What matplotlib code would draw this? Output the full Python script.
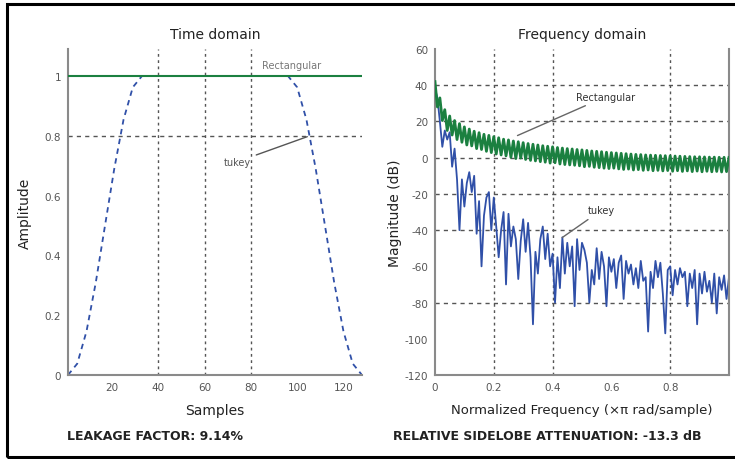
import numpy as np
import matplotlib
matplotlib.use("Agg")
import matplotlib.pyplot as plt
from matplotlib.patches import Rectangle

plt.rcParams["axes.unicode_minus"] = False

# time domain data (samples 1..128)
samples = [1, 5, 9, 13, 17, 21, 25, 29, 33, 40, 50, 60, 70, 80, 90, 96,
           100, 104, 108, 112, 116, 120, 124, 128]
tukey_amp = [0.0, 0.038, 0.146, 0.309, 0.5, 0.69, 0.854, 0.962, 1.0, 1.0, 1.0, 1.0,
             1.0, 1.0, 1.0, 1.0, 0.962, 0.854, 0.69, 0.5, 0.309, 0.146, 0.038, 0.0]
rect_samples = [1, 128]
rect_amp = [1.0, 1.0]

# frequency domain data (dB), 121 points between 0 and 1
freq = np.linspace(0, 1, 121)
rect_db = [42.0, 28.0, 33.0, 20.5, 26.5, 15.0, 23.0, 12.5, 20.5, 10.0,
           18.8, 8.5, 17.0, 7.0, 15.8, 6.5, 14.6, 5.0, 13.8, 4.5,
           12.9, 3.5, 12.3, 2.8, 11.6, 2.0, 11.0, 1.5, 10.2, 1.0,
           9.8, 0.2, 9.2, -0.5, 8.8, -0.2, 8.3, -1.0, 7.8, -1.5,
           7.4, -1.8, 7.0, -2.2, 6.6, -2.5, 6.3, -3.0, 6.0, -2.8,
           5.6, -3.5, 5.3, -3.8, 5.0, -4.0, 4.8, -4.2, 4.5, -4.5,
           4.3, -5.0, 4.0, -4.8, 3.7, -5.3, 3.5, -5.5, 3.3, -5.8,
           3.0, -6.0, 2.8, -5.8, 2.6, -6.2, 2.4, -6.5, 2.2, -6.3,
           2.0, -6.8, 1.8, -6.6, 1.7, -7.0, 1.5, -6.8, 1.4, -7.2,
           1.3, -7.0, 1.2, -7.3, 1.1, -7.1, 1.0, -7.5, 0.9, -7.2,
           0.8, -7.6, 0.7, -7.3, 0.6, -7.7, 0.5, -7.4, 0.5, -7.8,
           0.4, -7.5, 0.3, -7.8, 0.3, -7.6, 0.2, -7.9, 0.2, -7.7,
           0.1]
tukey_db = [38, 33, 20, 6, 15, 10, 14, -5, 5, -12,
            -40, -12, -27, -14, -8, -19, -10, -42, -24, -60,
            -32, -22, -19, -40, -22, -38, -55, -40, -30, -70,
            -31, -49, -38, -45, -67, -46, -34, -52, -36, -55,
            -92, -52, -64, -45, -38, -56, -42, -60, -53, -80,
            -55, -72, -44, -64, -47, -60, -49, -82, -45, -62,
            -47, -51, -58, -80, -62, -70, -50, -67, -52, -60,
            -82, -55, -63, -56, -72, -58, -54, -78, -57, -64,
            -59, -70, -61, -72, -57, -68, -66, -96, -63, -72,
            -57, -66, -58, -75, -97, -62, -60, -76, -62, -70,
            -61, -66, -63, -82, -64, -72, -62, -92, -64, -75,
            -63, -74, -68, -80, -64, -86, -66, -73, -65, -78,
            -66]

green = "#1b8040"
blue = "#3050a8"
grid_c = "#555555"
spine_c = "#8a8a8a"
tick_c = "#555555"

fig = plt.figure(figsize=(7.35, 4.6), dpi=100)

# ---- time domain
ax1 = fig.add_axes([0.0925, 0.1826, 0.4, 0.7087])
for x in [40, 60, 80]:
    ax1.axvline(x, color=grid_c, ls=(0, (2, 2.5)), lw=1.0, zorder=1)
ax1.axhline(0.8, color=grid_c, ls=(0, (3, 3)), lw=1.0, zorder=1)
ax1.plot(samples, tukey_amp, color=blue, ls=(0, (3, 2.5)), lw=1.3, zorder=2)
ax1.plot(rect_samples, rect_amp, color=green, lw=1.5, zorder=3)
ax1.set_xlim(1, 128)
ax1.set_ylim(0, 1.09)
ax1.set_xticks([20, 40, 60, 80, 100, 120])
ax1.set_yticks([0, 0.2, 0.4, 0.6, 0.8, 1])
ax1.set_yticklabels(["0", "0.2", "0.4", "0.6", "0.8", "1"])
ax1.set_title("Time domain", fontsize=10, color="#222222", pad=8)
ax1.set_xlabel("Samples", fontsize=10, color="#222222", labelpad=8)
ax1.set_ylabel("Amplitude", fontsize=10, color="#222222", labelpad=9)
ax1.text(85, 1.02, "Rectangular", fontsize=7, color="#777777", va="bottom")
ax1.annotate("tukey", xy=(105.5, 0.8), xytext=(80, 0.713), fontsize=7,
             color="#555555", ha="right", va="center",
             arrowprops=dict(arrowstyle="-", color="#555555", lw=1.0))

# ---- frequency domain
ax2 = fig.add_axes([0.5918, 0.1826, 0.4, 0.7087])
for x in [0.2, 0.4, 0.8]:
    ax2.axvline(x, color=grid_c, ls=(0, (2, 2.5)), lw=1.0, zorder=1)
for y in [40, 20, 0, -20, -40, -80]:
    ax2.axhline(y, color=grid_c, ls=(0, (3, 3)), lw=1.0, zorder=1)
ax2.plot(freq, rect_db, color=green, lw=2.0, zorder=3)
ax2.plot(freq, tukey_db, color=blue, lw=1.3, zorder=2)
ax2.set_xlim(0, 1)
ax2.set_ylim(-120, 60)
ax2.set_xticks([0, 0.2, 0.4, 0.6, 0.8])
ax2.set_xticklabels(["0", "0.2", "0.4", "0.6", "0.8"])
ax2.set_yticks(list(range(-120, 61, 20)))
ax2.set_title("Frequency domain", fontsize=10, color="#222222", pad=8)
ax2.set_xlabel("Normalized Frequency (\u00d7\u03c0 rad/sample)", fontsize=9.5,
               color="#222222", labelpad=8)
ax2.set_ylabel("Magnitude (dB)", fontsize=10, color="#222222", labelpad=2)
ax2.annotate("Rectangular", xy=(0.272, 11.6), xytext=(0.48, 33.6), fontsize=7,
             color="#333333", ha="left", va="center",
             arrowprops=dict(arrowstyle="-", color="#666666", lw=1.0))
ax2.annotate("tukey", xy=(0.425, -45), xytext=(0.52, -29), fontsize=7,
             color="#333333", ha="left", va="center",
             arrowprops=dict(arrowstyle="-", color="#666666", lw=1.0))

for ax in (ax1, ax2):
    ax.spines["top"].set_visible(False)
    for s in ("left", "bottom", "right"):
        ax.spines[s].set_color(spine_c)
        ax.spines[s].set_linewidth(1.5)
    ax.tick_params(length=0, labelsize=7.5, labelcolor=tick_c, pad=5)
ax1.spines["right"].set_visible(False)

fig.text(0.091, 0.05, "LEAKAGE FACTOR: 9.14%", fontsize=9, fontweight="bold",
         color="#222222", va="center")
fig.text(0.5347, 0.05, "RELATIVE SIDELOBE ATTENUATION: -13.3 dB", fontsize=9,
         fontweight="bold", color="#222222", va="center")

fig.add_artist(Rectangle((0.0095, 0.0043), 1.2, 0.985, transform=fig.transFigure,
                         fill=False, edgecolor="black", lw=2.2))

fig.savefig("out.png", dpi=100)
